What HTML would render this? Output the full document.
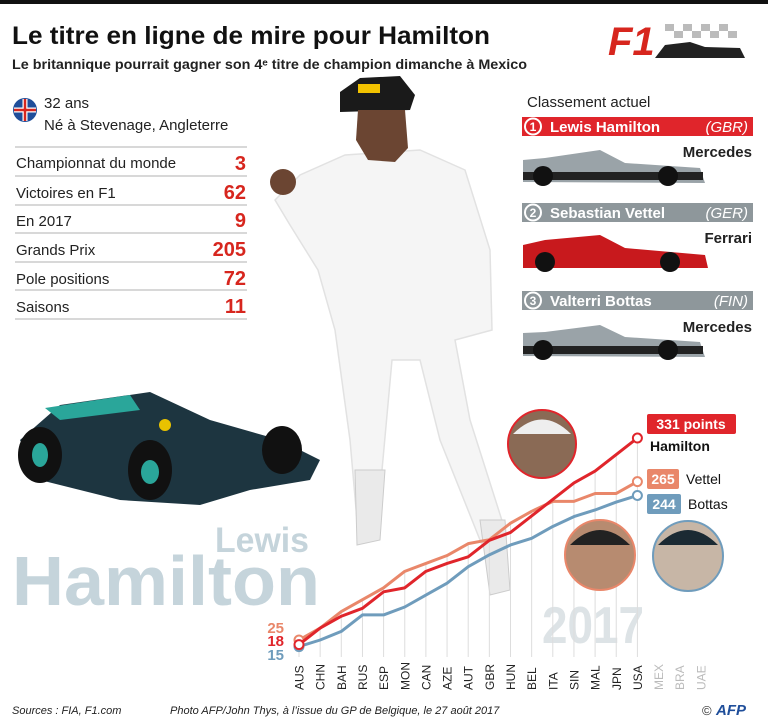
<!DOCTYPE html>
<html><head><meta charset="utf-8"><style>
html,body{margin:0;padding:0;background:#fff}
svg{display:block}
text{font-family:"Liberation Sans",sans-serif}
</style></head><body>
<svg id="s" width="768" height="727" viewBox="0 0 768 727" xmlns="http://www.w3.org/2000/svg">
<rect x="0" y="0" width="768" height="4" fill="#111"/>
<text x="12" y="44" font-size="25" font-weight="bold" fill="#111" textLength="478" lengthAdjust="spacingAndGlyphs">Le titre en ligne de mire pour Hamilton</text>
<text x="12" y="69" font-size="14" font-weight="bold" fill="#222" textLength="515" lengthAdjust="spacingAndGlyphs">Le britannique pourrait gagner son 4ᵉ titre de champion dimanche à Mexico</text>
<text x="608" y="55" font-size="40" font-weight="bold" font-style="italic" fill="#d7261e">F1</text>
<g fill="#bbb"><rect x="665" y="24" width="9" height="7"/><rect x="683" y="24" width="9" height="7"/><rect x="701" y="24" width="9" height="7"/><rect x="674" y="31" width="9" height="7"/><rect x="692" y="31" width="9" height="7"/><rect x="710" y="31" width="9" height="7"/><rect x="719" y="24" width="9" height="7"/><rect x="728" y="31" width="9" height="7"/></g>
<path d="M655 58 L665 45 L690 42 L705 47 L740 48 L745 58 Z" fill="#222"/>
<circle cx="25" cy="110" r="12" fill="#1f4e9a"/>
<path d="M14 110h22M25 99v22" stroke="#fff" stroke-width="5"/><path d="M14 110h22M25 99v22" stroke="#d7261e" stroke-width="2.5"/>
<text x="44" y="108" font-size="15" fill="#222">32 ans</text>
<text x="44" y="130" font-size="15" fill="#222">Né à Stevenage, Angleterre</text>
<g stroke="#ccc" stroke-width="1.5"><line x1="15" y1="147" x2="247" y2="147"/><line x1="15" y1="176" x2="247" y2="176"/><line x1="15" y1="205" x2="247" y2="205"/><line x1="15" y1="233" x2="247" y2="233"/><line x1="15" y1="262" x2="247" y2="262"/><line x1="15" y1="290" x2="247" y2="290"/><line x1="15" y1="319" x2="247" y2="319"/></g>
<g font-size="15" fill="#222"><text x="16" y="168">Championnat du monde</text><text x="16" y="198">Victoires en F1</text><text x="16" y="226">En 2017</text><text x="16" y="255">Grands Prix</text><text x="16" y="284">Pole positions</text><text x="16" y="312">Saisons</text></g>
<g font-size="20" font-weight="bold" fill="#d7261e" text-anchor="end"><text x="246" y="170">3</text><text x="246" y="199">62</text><text x="246" y="227">9</text><text x="246" y="256">205</text><text x="246" y="285">72</text><text x="246" y="313">11</text></g>
<g>
<path d="M275 200 L300 175 L345 155 L420 150 L465 170 L490 250 L492 330 L455 340 L470 420 L505 530 L482 545 L440 440 L420 360 L392 360 L382 470 L378 520 L357 520 L350 440 L335 330 L318 270 L290 225 Z" fill="#f5f5f5" stroke="#e2e2e2" stroke-width="1.5"/>
<path d="M340 92 L360 78 L400 76 L415 95 L410 110 L340 112 Z" fill="#1a1a1a"/>
<rect x="358" y="84" width="22" height="9" fill="#f2c200"/>
<path d="M358 110 L405 110 L408 148 L395 162 L368 160 L356 140 Z" fill="#6b4532"/>
<circle cx="283" cy="182" r="13" fill="#6b4532"/>
<path d="M355 470 L385 470 L380 540 L357 545 Z" fill="#eaeaea" stroke="#ccc"/>
<path d="M480 520 L505 520 L510 590 L490 595 Z" fill="#eaeaea" stroke="#ccc"/>
</g>
<g>
<path d="M20 440 L60 405 L150 392 L210 420 L280 440 L320 460 L310 480 L250 490 L200 505 L120 500 L40 480 Z" fill="#1d3540"/>
<path d="M45 408 L130 395 L140 410 L60 420 Z" fill="#2aa69a"/>
<ellipse cx="40" cy="455" rx="22" ry="28" fill="#111"/><ellipse cx="40" cy="455" rx="8" ry="12" fill="#2aa69a"/>
<ellipse cx="150" cy="470" rx="22" ry="30" fill="#111"/><ellipse cx="150" cy="472" rx="9" ry="12" fill="#2aa69a"/>
<ellipse cx="282" cy="450" rx="20" ry="24" fill="#111"/>
<circle cx="165" cy="425" r="6" fill="#e8c200"/>
</g>
<text x="527" y="107" font-size="15" fill="#222">Classement actuel</text>
<rect x="522" y="117" width="231" height="19" fill="#e0252b"/>
<rect x="522" y="203" width="231" height="19" fill="#8e979b"/>
<rect x="522" y="291" width="231" height="19" fill="#8e979b"/>
<g fill="#fff" font-size="15" font-weight="bold"><text x="550" y="132">Lewis Hamilton</text><text x="550" y="218">Sebastian Vettel</text><text x="550" y="306">Valterri Bottas</text></g>
<g fill="#fff" font-size="15" font-style="italic" text-anchor="end"><text x="748" y="132">(GBR)</text><text x="748" y="218">(GER)</text><text x="748" y="306">(FIN)</text></g>
<g fill="none" stroke="#fff" stroke-width="2"><circle cx="533" cy="126.5" r="8"/><circle cx="533" cy="212.5" r="8"/><circle cx="533" cy="300.5" r="8"/></g>
<g fill="#fff" font-size="12" font-weight="bold" text-anchor="middle"><text x="533" y="131">1</text><text x="533" y="217">2</text><text x="533" y="305">3</text></g>
<g font-size="15" font-weight="bold" fill="#222" text-anchor="end"><text x="752" y="157">Mercedes</text><text x="752" y="243">Ferrari</text><text x="752" y="332">Mercedes</text></g>
<g>
<path d="M523 160 L545 158 L600 150 L625 163 L700 168 L705 183 L523 182 Z" fill="#9aa3a8"/><rect x="523" y="172" width="180" height="8" fill="#222"/>
<circle cx="543" cy="176" r="10" fill="#111"/><circle cx="668" cy="176" r="10" fill="#111"/>
<path d="M523 245 L545 240 L600 235 L625 248 L705 255 L708 268 L523 268 Z" fill="#c8191d"/>
<circle cx="545" cy="262" r="10" fill="#111"/><circle cx="670" cy="262" r="10" fill="#111"/>
<path d="M523 333 L545 332 L600 325 L625 337 L700 342 L705 357 L523 356 Z" fill="#9aa3a8"/><rect x="523" y="346" width="180" height="8" fill="#222"/>
<circle cx="543" cy="350" r="10" fill="#111"/><circle cx="668" cy="350" r="10" fill="#111"/>
</g>
<text x="215" y="552" font-size="35" font-weight="bold" fill="#c5d4db" textLength="94" lengthAdjust="spacingAndGlyphs">Lewis</text>
<text x="12" y="605" font-size="70" font-weight="bold" fill="#c5d4db" textLength="308" lengthAdjust="spacingAndGlyphs">Hamilton</text>
<text x="542" y="643" font-size="52" font-weight="bold" fill="#dde3e6" textLength="102" lengthAdjust="spacingAndGlyphs">2017</text>
<g id="chart"></g>
<circle cx="542" cy="444" r="34" fill="#8a6a55" stroke="#e0252b" stroke-width="2"/>
<path d="M513 434 Q542 405 571 434 Z" fill="#eee"/>
<circle cx="600" cy="555" r="35" fill="#b78b70" stroke="#e9876a" stroke-width="2"/>
<path d="M570 545 Q600 515 630 545 Z" fill="#222"/>
<circle cx="688" cy="556" r="35" fill="#c7b6a6" stroke="#6f9cbc" stroke-width="2"/>
<path d="M658 545 Q688 515 718 545 Z" fill="#1b2a33"/>
<rect x="647" y="414" width="89" height="20" rx="2" fill="#e0252b"/>
<text x="691" y="429" font-size="14" font-weight="bold" fill="#fff" text-anchor="middle">331 points</text>
<text x="650" y="451" font-size="14" font-weight="bold" fill="#111">Hamilton</text>
<rect x="647" y="469" width="32" height="20" rx="2" fill="#e9876a"/>
<text x="663" y="484" font-size="14" font-weight="bold" fill="#fff" text-anchor="middle">265</text>
<text x="686" y="484" font-size="14" fill="#111">Vettel</text>
<rect x="647" y="494" width="34" height="20" rx="2" fill="#6f9cbc"/>
<text x="664" y="509" font-size="14" font-weight="bold" fill="#fff" text-anchor="middle">244</text>
<text x="688" y="509" font-size="14" fill="#111">Bottas</text>
<g font-size="15" font-weight="bold" text-anchor="end"><text x="284" y="633" fill="#e9876a">25</text><text x="284" y="646" fill="#e0252b">18</text><text x="284" y="660" fill="#6f9cbc">15</text></g>
<text x="12" y="714" font-size="11" font-style="italic" fill="#222">Sources : FIA, F1.com</text>
<text x="170" y="714" font-size="11" font-style="italic" fill="#222">Photo AFP/John Thys, à l’issue du GP de Belgique, le 27 août 2017</text>
<text x="702" y="715" font-size="13" fill="#333">©</text>
<text x="716" y="715" font-size="15" font-weight="bold" font-style="italic" fill="#1f4e9a">AFP</text>
</svg>
<script>
var races=["AUS","CHN","BAH","RUS","ESP","MON","CAN","AZE","AUT","GBR","HUN","BEL","ITA","SIN","MAL","JPN","USA","MEX","BRA","UAE"];
var H=[18,43,61,73,98,104,129,141,151,176,188,213,238,263,281,306,331];
var V=[25,43,68,86,104,129,141,153,171,177,202,220,235,235,247,247,265];
var B=[15,25,38,63,63,75,93,111,136,154,169,179,197,212,222,234,244];
function X(i){return 299+i*21.15}function Y(p){return 656.5-0.66*p}
var g='';
for(var i=0;i<17;i++){var m=Math.max(H[i],V[i],B[i]);g+='<line x1="'+X(i)+'" y1="657" x2="'+X(i)+'" y2="'+Y(m)+'" stroke="#ddd" stroke-width="1"/>';}
for(var i=0;i<20;i++){g+='<text transform="translate('+(X(i)+4.5)+',690) rotate(-90)" font-size="12" fill="'+(i<17?'#222':'#bbb')+'">'+races[i]+'</text>';}
function pl(a,c){var s='';for(var i=0;i<a.length;i++)s+=X(i)+','+Y(a[i])+' ';return '<polyline points="'+s+'" fill="none" stroke="'+c+'" stroke-width="3" stroke-linejoin="round"/>'+
'<circle cx="'+X(0)+'" cy="'+Y(a[0])+'" r="4.5" fill="#fff" stroke="'+c+'" stroke-width="2"/><circle cx="'+X(16)+'" cy="'+Y(a[16])+'" r="4.5" fill="#fff" stroke="'+c+'" stroke-width="2"/>';}
g+=pl(B,"#6f9cbc")+pl(V,"#e9876a")+pl(H,"#e0252b");
document.getElementById("chart").innerHTML=g;
</script>
</body></html>
